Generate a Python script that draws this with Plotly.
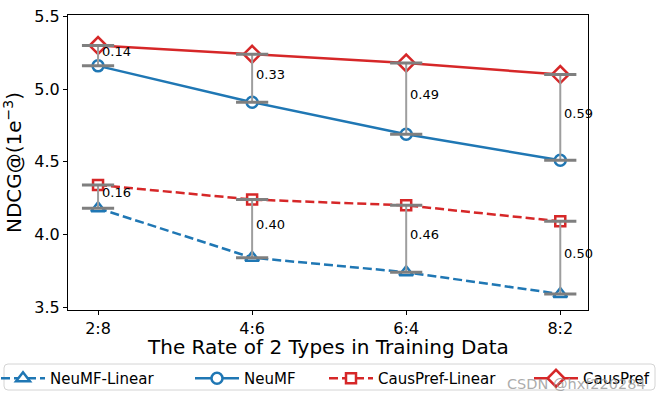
import plotly.graph_objects as go

categories = ["2:8", "4:6", "6:4", "8:2"]
neumf_linear = [4.18, 3.84, 3.74, 3.59]
neumf = [5.16, 4.91, 4.69, 4.51]
causpref_linear = [4.34, 4.24, 4.20, 4.09]
causpref = [5.30, 5.24, 5.18, 5.10]

BLUE = "#1f77b4"
RED = "#d62728"
GRAY = "#7f7f7f"
FONT = "DejaVu Sans"

L, R, T, B = 68, 73, 15, 90
PW, PH = 661 - L - R, 400 - T - B


def px_x(px):
    return (px - L) / PW


def px_y(py):
    return (400 - B - py) / PH


fig = go.Figure()

series = [
    ("NeuMF-Linear", neumf_linear, BLUE, "dash", "triangle-up", 12),
    ("NeuMF", neumf, BLUE, "solid", "circle", 11),
    ("CausPref-Linear", causpref_linear, RED, "dash", "square", 10),
    ("CausPref", causpref, RED, "solid", "diamond", 13),
]
legend_px = [-4, 190, 324, 529]
legend_names = ["legend", "legend2", "legend3", "legend4"]
for (name, vals, color, dash, sym, size), lg in zip(series, legend_names):
    fig.add_trace(go.Scatter(
        x=categories, y=vals, name=name, mode="lines+markers", legend=lg,
        line=dict(color=color, width=2.5, dash="9px,4px" if dash == "dash" else "solid"),
        marker=dict(symbol=sym, size=size, color="white", line=dict(color=color, width=2.5)),
    ))

pairs = [(neumf, causpref), (neumf_linear, causpref_linear)]
annotations = []
for lower, upper in pairs:
    diffs = [round(u - l, 2) for l, u in zip(lower, upper)]
    fig.add_trace(go.Scatter(
        x=categories, y=lower, mode="markers", showlegend=False, hoverinfo="skip",
        marker=dict(opacity=0),
        error_y=dict(type="data", array=diffs, arrayminus=[0] * len(diffs), symmetric=False,
                     color="#9e9e9e", thickness=2, width=0),
    ))
    fig.add_trace(go.Scatter(
        x=categories + categories, y=lower + upper, mode="markers", showlegend=False,
        hoverinfo="skip",
        marker=dict(symbol="line-ew", size=23, line=dict(color=GRAY, width=3)),
    ))
    for c, l, u, d in zip(categories, lower, upper, diffs):
        annotations.append(dict(
            x=c, y=(l + u) / 2, xref="x", yref="y", text=f"{d:.2f}", showarrow=False,
            xanchor="left", yanchor="middle", xshift=2, yshift=4,
            font=dict(family=FONT, size=13, color="black"),
        ))

annotations.append(dict(
    x=px_x(328), y=px_y(346.5), xref="paper", yref="paper",
    text="The Rate of 2 Types in Training Data", showarrow=False,
    xanchor="center", yanchor="middle", font=dict(family=FONT, size=20, color="black"),
))
annotations.append(dict(
    x=px_x(648), y=px_y(384), xref="paper", yref="paper", text="CSDN @hxf220284",
    showarrow=False, xanchor="right", yanchor="middle",
    font=dict(family=FONT, size=14.5, color="rgba(150,150,150,0.8)"),
))

legends = {}
for lg, lx in zip(legend_names, legend_px):
    legends[lg] = dict(
        orientation="h", x=px_x(lx), y=px_y(362), xanchor="left", yanchor="top",
        bgcolor="rgba(0,0,0,0)", borderwidth=0, font=dict(size=15, family=FONT),
        itemwidth=44,
    )

# rounded legend frame
x0, x1 = px_x(4), px_x(655)
y0, y1 = px_y(390), px_y(364)
rx, ry = 4 / PW, 4 / PH
frame_path = (
    f"M{x0 + rx},{y1} L{x1 - rx},{y1} Q{x1},{y1} {x1},{y1 - ry} "
    f"L{x1},{y0 + ry} Q{x1},{y0} {x1 - rx},{y0} L{x0 + rx},{y0} "
    f"Q{x0},{y0} {x0},{y0 + ry} L{x0},{y1 - ry} Q{x0},{y1} {x0 + rx},{y1} Z"
)

fig.update_layout(
    width=661, height=400,
    margin=dict(l=L, r=R, t=T, b=B, autoexpand=False),
    paper_bgcolor="white", plot_bgcolor="white",
    font=dict(family=FONT, size=15, color="black"),
    annotations=annotations,
    shapes=[dict(type="path", path=frame_path, xref="paper", yref="paper",
                 line=dict(color="#d4d4d4", width=1), fillcolor="rgba(0,0,0,0)", layer="below")],
    xaxis=dict(
        type="category", range=[-0.195, 3.18], showline=True, linecolor="black", linewidth=1,
        mirror=True, ticks="outside", ticklen=4, tickcolor="black", showgrid=False,
        tickfont=dict(size=16),
    ),
    yaxis=dict(
        range=[3.48, 5.51], tickvals=[3.5, 4.0, 4.5, 5.0, 5.5],
        ticktext=["3.5", "4.0", "4.5", "5.0", "5.5"],
        showline=True, linecolor="black", linewidth=1, mirror=True, ticks="outside",
        ticklen=4, tickcolor="black", showgrid=False, zeroline=False, tickfont=dict(size=16),
        title=dict(text="NDCG@(1e<sup>−3</sup>)", font=dict(size=20), standoff=10),
    ),
    **legends,
)

fig.write_html("out.html", config={"displayModeBar": False},
               post_script="document.body.style.margin='0';")
